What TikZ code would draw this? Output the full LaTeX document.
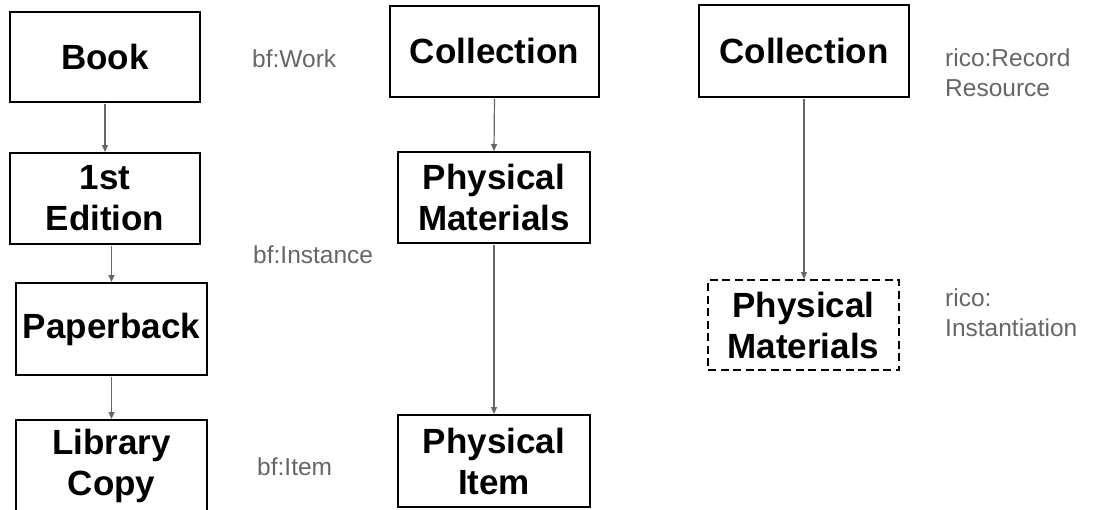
\documentclass[tikz,border=0pt]{standalone}
\usepackage{fontspec}
\setmainfont{Liberation Sans}
\usetikzlibrary{arrows.meta}
\definecolor{lblgray}{HTML}{666666}
\definecolor{arrgray}{HTML}{666666}
\tikzset{
  box/.style={draw=black, line width=2pt, fill=white, inner sep=0pt, align=center,
    font=\fontsize{35}{41}\selectfont\bfseries},
  dbox/.style={box, dash pattern=on 8pt off 4.5pt},
  lbl/.style={text=lblgray, inner sep=0pt, align=left, font=\fontsize{24.5}{30}\selectfont},
  conn/.style={draw=arrgray, line width=1.2pt, -{Triangle[length=7pt,width=6pt]}, shorten <=1pt}
}
\begin{document}
\begin{tikzpicture}[x=1pt,y=-1pt]
\useasboundingbox (0,0) rectangle (1093,509);
\clip (0,0) rectangle (1093,509);
% left column
\node[box, minimum width=190pt, minimum height=90pt] (book) at (105,56.5) {Book};
\node[box, minimum width=190pt, minimum height=91pt] (ed) at (105,198.5) {1st\\Edition};
\node[box, minimum width=191pt, minimum height=92pt] (pb) at (111.5,329) {Paperback};
\node[box, minimum width=191pt, minimum height=92pt] (lc) at (111.5,466) {Library\\Copy};
\draw[conn] (book.south) -- (ed.north);
\draw[conn] (ed.south -| pb.north) -- (pb.north);
\draw[conn] (pb.south) -- (lc.north);
\node[lbl, anchor=base west] (lw) at (252,67) {bf:Work};
\node[lbl, anchor=base west] (li) at (253,263) {bf:Instance};
\node[lbl, anchor=base west] (lt) at (257,475) {bf:Item};
% middle column
\node[box, minimum width=209pt, minimum height=91pt] (c1) at (494.5,51) {Collection};
\node[box, minimum width=192pt, minimum height=91pt] (pm1) at (494,197.5) {Physical\\Materials};
\node[box, minimum width=192pt, minimum height=92pt] (pi) at (494,461) {Physical\\Item};
\draw[conn] (c1.south) -- (pm1.north);
\draw[conn] (pm1.south) -- (pi.north);
% right column
\node[box, minimum width=210pt, minimum height=92pt] (c2) at (804,51) {Collection};
\node[dbox, minimum width=191pt, minimum height=90pt] (pm2) at (803.5,325) {Physical\\Materials};
\draw[conn] (c2.south) -- (c2.south |- pm2.north);
\node[lbl, anchor=west] (lr) at (945,73) {rico:Record\\Resource};
\node[lbl, anchor=west] (ln) at (945,313) {rico:\\Instantiation};
\end{tikzpicture}
\end{document}
